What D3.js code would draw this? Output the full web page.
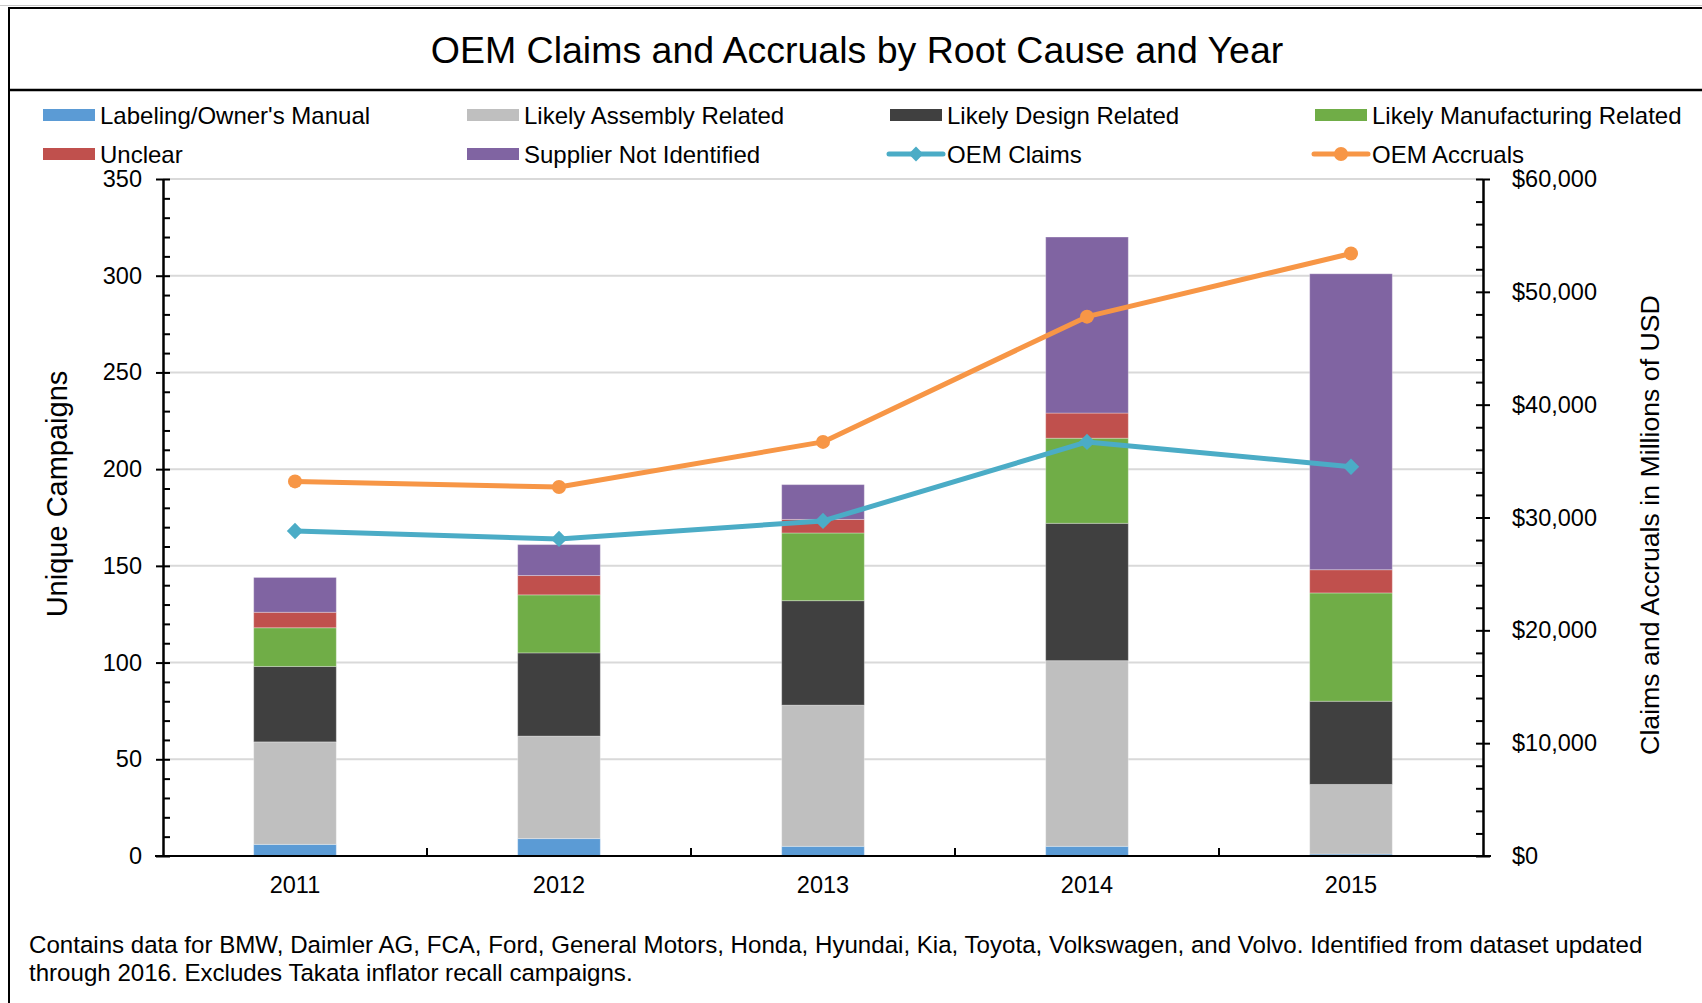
<!DOCTYPE html>
<html>
<head>
<meta charset="utf-8">
<script src="https://cdn.jsdelivr.net/npm/d3@7"></script>
<style>
  html, body { margin: 0; padding: 0; background: #fff; }
  svg { display: block; font-family: "Liberation Sans", Arial, sans-serif; }
</style>
</head>
<body>
<svg id="chart" width="1702" height="1003"></svg>
<script>
// Recall campaigns by root cause (stacked bars, left axis)
const years = ["2011", "2012", "2013", "2014", "2015"];
const labeling = [6, 9, 5, 5, 1];
const assembly = [53, 53, 73, 96, 36];
const design = [39, 43, 54, 71, 43];
const manufacturing = [20, 30, 35, 44, 56];
const unclear = [8, 10, 7, 13, 12];
const supplier = [18, 16, 18, 91, 153];

// Claims and accruals, millions of USD (lines, right axis)
const oemClaims = [28800, 28100, 29700, 36700, 34500];
const oemAccruals = [33200, 32700, 36700, 47800, 53400];

const leftTicks = [0, 50, 100, 150, 200, 250, 300, 350];
const rightTicks = [0, 10000, 20000, 30000, 40000, 50000, 60000];

const seriesNames = ["Labeling/Owner's Manual", "Likely Assembly Related", "Likely Design Related",
  "Likely Manufacturing Related", "Unclear", "Supplier Not Identified"];
const seriesValues = [labeling, assembly, design, manufacturing, unclear, supplier];
const seriesColors = ["#5B9BD5", "#BFBFBF", "#404040", "#70AD47", "#C0504D", "#8064A2"];
const claimsColor = "#4BACC6";
const accrualsColor = "#F79646";

const svg = d3.select("#chart");
const W = 1702, H = 1003;
const plot = { left: 163, right: 1483, top: 179, bottom: 856 };

// Frame and header
svg.append("line").attr("x1", 0).attr("x2", W).attr("y1", 5.5).attr("y2", 5.5)
  .attr("stroke", "#c8c8c8").attr("stroke-width", 1);
svg.append("rect").attr("x", 9).attr("y", 8).attr("width", W + 10).attr("height", H + 10)
  .attr("fill", "none").attr("stroke", "#000").attr("stroke-width", 2);
svg.append("line").attr("x1", 9).attr("x2", W).attr("y1", 90).attr("y2", 90)
  .attr("stroke", "#000").attr("stroke-width", 2.5);
svg.append("text").attr("x", 857).attr("y", 63).attr("text-anchor", "middle")
  .attr("font-size", 37.5).attr("fill", "#000")
  .text("OEM Claims and Accruals by Root Cause and Year");

// Scales
const x = d3.scaleBand().domain(years).range([plot.left, plot.right]).paddingInner(0).paddingOuter(0);
const barW = x.bandwidth() * 0.313;
const y = d3.scaleLinear().domain([0, 350]).range([plot.bottom, plot.top]);
const y2 = d3.scaleLinear().domain([0, 60000]).range([plot.bottom, plot.top]);

// Gridlines
svg.append("g").selectAll("line").data(leftTicks.filter(d => d > 0)).join("line")
  .attr("x1", plot.left).attr("x2", plot.right)
  .attr("y1", d => y(d)).attr("y2", d => y(d))
  .attr("stroke", "#d9d9d9").attr("stroke-width", 2);

// Stacked bars
const rows = years.map((yr, i) => {
  const r = { year: yr };
  seriesNames.forEach((n, k) => { r[n] = seriesValues[k][i]; });
  return r;
});
const stack = d3.stack().keys(seriesNames)(rows);
svg.append("g").selectAll("g").data(stack).join("g")
  .attr("fill", (d, k) => seriesColors[k])
  .selectAll("rect").data(d => d).join("rect")
  .attr("x", d => x(d.data.year) + (x.bandwidth() - barW) / 2)
  .attr("width", barW)
  .attr("y", d => y(d[1]))
  .attr("height", d => Math.max(0, y(d[0]) - y(d[1])))
  .attr("stroke", "#ffffff").attr("stroke-opacity", 0.3).attr("stroke-width", 1);

// Axes
const fmtUsd = v => "$" + d3.format(",")(v);
const minorLeft = d3.range(0, 351, 10);
const minorRight = d3.range(0, 60001, 2000);

const gL = svg.append("g").attr("transform", `translate(${plot.left},0)`)
  .call(d3.axisLeft(y).tickValues(leftTicks).tickSizeInner(7).tickSizeOuter(0).tickPadding(14));
svg.append("g").attr("transform", `translate(${plot.left},0)`)
  .call(d3.axisRight(y).tickValues(minorLeft).tickSizeInner(7).tickSizeOuter(0).tickFormat(""));

const gR = svg.append("g").attr("transform", `translate(${plot.right},0)`)
  .call(d3.axisRight(y2).tickValues(rightTicks).tickSizeInner(7).tickSizeOuter(0).tickPadding(22).tickFormat(fmtUsd));
svg.append("g").attr("transform", `translate(${plot.right},0)`)
  .call(d3.axisLeft(y2).tickValues(minorRight).tickSizeInner(7).tickSizeOuter(0).tickFormat(""));

const gX = svg.append("g").attr("transform", `translate(0,${plot.bottom})`)
  .call(d3.axisBottom(x).tickSize(0).tickPadding(20));
// category boundary ticks pointing into the plot
svg.append("g").selectAll("line").data(years.slice(1)).join("line")
  .attr("x1", d => x(d)).attr("x2", d => x(d))
  .attr("y1", plot.bottom).attr("y2", plot.bottom - 8)
  .attr("stroke", "#000").attr("stroke-width", 2);

svg.selectAll(".domain").attr("stroke", "#000").attr("stroke-width", 2);
svg.selectAll(".tick line").attr("stroke", "#000").attr("stroke-width", 2);
gX.select(".domain").attr("d", `M${plot.left - 8},0H${plot.right + 8}`);
[gL, gR, gX].forEach(g => g.selectAll("text").attr("font-size", 23.5).attr("fill", "#000")
  .attr("font-family", "'Liberation Sans', Arial, sans-serif"));

// Axis titles
svg.append("text").attr("transform", "translate(57,494) rotate(-90)")
  .attr("text-anchor", "middle").attr("dominant-baseline", "central")
  .attr("font-size", 29).text("Unique Campaigns");
svg.append("text").attr("transform", "translate(1650,525) rotate(-90)")
  .attr("text-anchor", "middle").attr("dominant-baseline", "central")
  .attr("font-size", 26.7).text("Claims and Accruals in Millions of USD");

// Lines
const cx = d => x(d) + x.bandwidth() / 2;
const lineGen = vals => d3.line().x((d, i) => cx(years[i])).y(d => y2(d))(vals);
svg.append("path").attr("d", lineGen(oemAccruals)).attr("fill", "none")
  .attr("stroke", accrualsColor).attr("stroke-width", 5).attr("stroke-linejoin", "round").attr("stroke-linecap", "round");
svg.append("path").attr("d", lineGen(oemClaims)).attr("fill", "none")
  .attr("stroke", claimsColor).attr("stroke-width", 5).attr("stroke-linejoin", "round").attr("stroke-linecap", "round");
svg.append("g").selectAll("circle").data(oemAccruals).join("circle")
  .attr("cx", (d, i) => cx(years[i])).attr("cy", d => y2(d)).attr("r", 7).attr("fill", accrualsColor);
const diamond = d3.symbol().type(d3.symbolDiamond2).size(170);
svg.append("g").selectAll("path").data(oemClaims).join("path")
  .attr("transform", (d, i) => `translate(${cx(years[i])},${y2(d)})`)
  .attr("d", diamond).attr("fill", claimsColor);

// Legend
const colX = [43, 467, 890, 1315];
const rowY = [115, 154];
const legendItems = seriesNames.map((n, k) => ({ name: n, type: "rect", color: seriesColors[k] }))
  .concat([{ name: "OEM Claims", type: "diamond", color: claimsColor },
           { name: "OEM Accruals", type: "circle", color: accrualsColor }]);
const lg = svg.append("g").selectAll("g").data(legendItems).join("g")
  .attr("transform", (d, i) => `translate(${colX[i % 4]},${rowY[Math.floor(i / 4)]})`);
lg.filter(d => d.type === "rect").append("rect")
  .attr("x", 0).attr("y", -6).attr("width", 52).attr("height", 12).attr("fill", d => d.color);
lg.filter(d => d.type !== "rect").append("line")
  .attr("x1", -1).attr("x2", 53).attr("y1", 0).attr("y2", 0)
  .attr("stroke", d => d.color).attr("stroke-width", 5).attr("stroke-linecap", "round");
lg.filter(d => d.type === "circle").append("circle").attr("cx", 26).attr("cy", 0).attr("r", 7)
  .attr("fill", d => d.color);
lg.filter(d => d.type === "diamond").append("path").attr("transform", "translate(26,0)")
  .attr("d", d3.symbol().type(d3.symbolDiamond2).size(140)).attr("fill", d => d.color);
lg.append("text").attr("x", 57).attr("y", 8.5).attr("font-size", 24).attr("fill", "#000").text(d => d.name);

// Footnote
const notes = ["Contains data for BMW, Daimler AG, FCA, Ford, General Motors, Honda, Hyundai, Kia, Toyota, Volkswagen, and Volvo. Identified from dataset updated",
  "through 2016. Excludes Takata inflator recall campaigns."];
svg.append("g").selectAll("text").data(notes).join("text")
  .attr("x", 29).attr("y", (d, i) => 953 + i * 28).attr("font-size", 24.1).attr("fill", "#000").text(d => d);
</script>
</body>
</html>
